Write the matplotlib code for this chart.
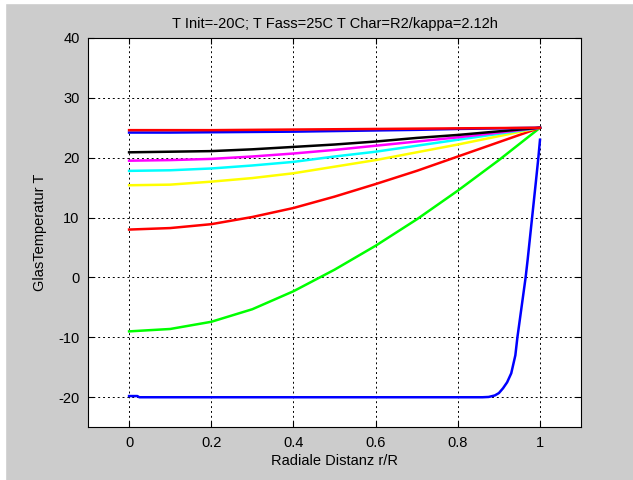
import numpy as np
import matplotlib
matplotlib.use("Agg")
from matplotlib import pyplot as plt
from matplotlib.patches import Rectangle

plt.rcParams['font.family'] = ['Liberation Sans', 'DejaVu Sans']
plt.rcParams['axes.unicode_minus'] = False

# radial positions for the smooth profiles
r = [0.0, 0.1, 0.2, 0.3, 0.4, 0.5, 0.6, 0.7, 0.8, 0.9, 1.0]

# temperature profiles
t_green = [-9.0, -8.6, -7.4, -5.3, -2.3, 1.3, 5.3, 9.7, 14.5, 19.6, 25.0]
t_red = [8.0, 8.25, 8.9, 10.1, 11.6, 13.5, 15.6, 17.8, 20.2, 22.6, 25.0]
t_yellow = [15.4, 15.5, 16.0, 16.6, 17.4, 18.5, 19.6, 20.9, 22.2, 23.6, 25.0]
t_cyan = [17.8, 17.9, 18.2, 18.7, 19.3, 20.2, 21.0, 22.0, 23.0, 24.0, 25.0]
t_magenta = [19.5, 19.6, 19.8, 20.2, 20.7, 21.3, 22.0, 22.7, 23.4, 24.2, 25.0]
t_black = [20.9, 21.0, 21.1, 21.4, 21.8, 22.2, 22.7, 23.3, 23.8, 24.4, 25.0]
t_blue2 = [24.2, 24.2, 24.25, 24.3, 24.35, 24.45, 24.55, 24.65, 24.8, 24.9, 25.0]
t_red2 = [24.6, 24.6, 24.6, 24.65, 24.7, 24.75, 24.8, 24.85, 24.9, 24.95, 25.0]

# initial profile (steep rise at the wall)
r_init = [0.0, 0.02, 0.025, 0.3, 0.6, 0.86, 0.875, 0.89, 0.9, 0.91, 0.92, 0.93,
          0.94, 0.945, 0.955, 0.965, 0.97, 0.98, 0.99, 0.996, 1.0]
t_init = [-19.8, -19.8, -20.0, -20.0, -20.0, -20.0, -19.95, -19.7, -19.3, -18.5, -17.5, -16.0,
          -13.0, -10.0, -5.0, 0.0, 3.0, 9.5, 16.0, 20.0, 23.0]

profiles = [(r_init, t_init, '#0000ff'),
            (r, t_green, '#00ff00'),
            (r, t_red, '#ff0000'),
            (r, t_yellow, '#ffff00'),
            (r, t_cyan, '#00ffff'),
            (r, t_magenta, '#ff00ff'),
            (r, t_black, '#000000'),
            (r, t_blue2, '#0000ff'),
            (r, t_red2, '#ff0000')]

fig = plt.figure(figsize=(6.33, 4.8), dpi=100, facecolor='#cccccc')
# thin white border of the screenshot
fig.patches.append(Rectangle((0, 0.994), 1, 0.006, transform=fig.transFigure,
                             color='white', zorder=-1))
fig.patches.append(Rectangle((0, 0), 0.008, 1, transform=fig.transFigure,
                             color='white', zorder=-1))

ax = fig.add_axes([0.139, 0.110, 0.779, 0.811])
for xs, ys, c in profiles:
    ax.plot(xs, ys, color=c, lw=1.8)

ax.set_xlim(-0.1, 1.1)
ax.set_ylim(-25, 40)
ax.set_xticks([0, 0.2, 0.4, 0.6, 0.8, 1])
ax.set_xticklabels(['0', '0.2', '0.4', '0.6', '0.8', '1'])
ax.set_yticks([-20, -10, 0, 10, 20, 30, 40])
ax.tick_params(direction='in', top=True, right=True, labelsize=10.5,
               length=4, width=0.8, colors='black', pad=6)
ax.grid(True, color='black', linestyle=(0, (2, 3)), linewidth=0.7)
for s in ax.spines.values():
    s.set_linewidth(0.8)

ax.set_title('T Init=-20C; T Fass=25C T Char=R2/kappa=2.12h', fontsize=10.5, pad=7)
ax.set_xlabel('Radiale Distanz r/R', fontsize=10.5, labelpad=3)
ax.set_ylabel('GlasTemperatur T', fontsize=10.5, labelpad=8)

fig.savefig('out.png', dpi=100, facecolor=fig.get_facecolor())
